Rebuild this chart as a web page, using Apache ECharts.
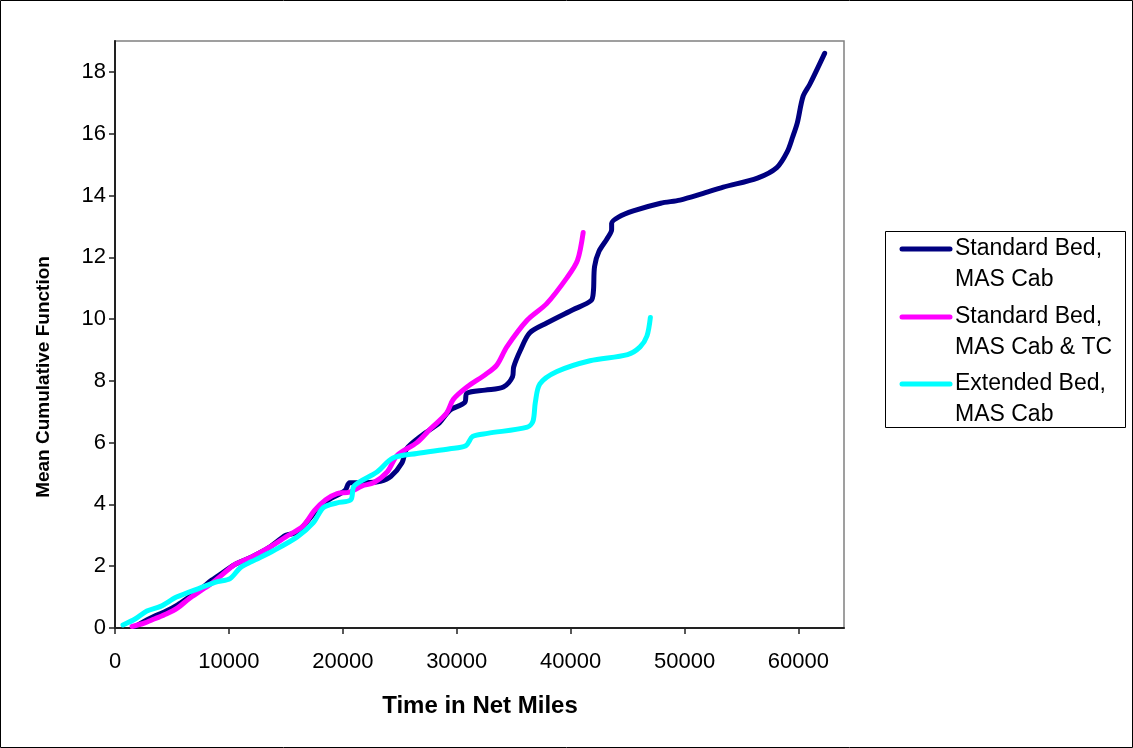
<!DOCTYPE html>
<html><head><meta charset="utf-8">
<script src="https://cdn.jsdelivr.net/npm/echarts@6/dist/echarts.min.js"></script>
<style>html,body{margin:0;padding:0;background:#fff}#c{width:1133px;height:748px}</style>
</head><body><div id="c"></div>
<script>
const seriesNames = ['Standard Bed,\nMAS Cab', 'Standard Bed,\nMAS Cab & TC', 'Extended Bed,\nMAS Cab'];
const seriesColors = ['#000080', '#FF00FF', '#00FFFF'];
const xTicks = [0, 10000, 20000, 30000, 40000, 50000, 60000];
const yTicks = [0, 2, 4, 6, 8, 10, 12, 14, 16, 18];
const xTitle = 'Time in Net Miles';
const yTitle = 'Mean Cumulative Function';

const stdBed = [[1800,0.05],[3000,0.3],[4500,0.55],[5500,0.75],[6500,1.0],[7500,1.25],[8500,1.55],[9500,1.8],[10500,2.05],[12000,2.3],[13500,2.6],[15000,3.0],[16000,3.1],[17000,3.5],[18000,3.95],[19000,4.2],[20200,4.45],[20600,4.7],[22000,4.7],[23300,4.75],[24200,4.9],[25200,5.35],[25600,5.8],[27000,6.25],[28500,6.65],[29400,7.05],[30700,7.3],[30900,7.6],[32500,7.7],[34100,7.8],[34900,8.13],[35000,8.45],[35600,9.0],[36400,9.55],[37900,9.87],[40200,10.3],[41800,10.6],[42000,10.9],[42100,11.7],[42500,12.2],[43200,12.6],[43600,12.9],[43600,13.1],[44200,13.3],[45500,13.5],[47900,13.75],[49600,13.85],[51500,14.05],[53400,14.27],[56400,14.56],[58100,14.9],[59000,15.4],[59500,15.9],[59900,16.35],[60400,17.2],[61000,17.6],[62300,18.6]];
const stdBedTC = [[1500,0.05],[2500,0.15],[3500,0.3],[4500,0.45],[5500,0.65],[6500,0.95],[7500,1.2],[8500,1.45],[9500,1.75],[10500,2.05],[12000,2.3],[13500,2.6],[15000,2.95],[16500,3.3],[17500,3.8],[18500,4.15],[19500,4.35],[20600,4.4],[21700,4.6],[22700,4.7],[23900,5.05],[24800,5.6],[26500,6.0],[27700,6.45],[29100,6.95],[29700,7.4],[30900,7.8],[32500,8.2],[33500,8.5],[34400,9.1],[36200,9.97],[37900,10.5],[39700,11.35],[40600,11.9],[41100,12.8]];
const extBed = [[700,0.1],[1800,0.3],[2800,0.55],[4000,0.7],[5400,1.0],[7500,1.3],[9000,1.5],[10100,1.6],[11000,1.95],[12000,2.15],[13900,2.5],[16000,2.95],[17400,3.4],[18300,3.9],[19500,4.05],[20700,4.15],[21000,4.6],[23000,5.05],[24400,5.5],[26500,5.65],[29400,5.8],[30800,5.9],[31400,6.2],[32700,6.3],[36200,6.5],[36700,6.7],[36900,7.3],[37300,7.9],[38800,8.3],[41700,8.65],[45000,8.85],[46100,9.1],[46700,9.45],[47000,10.05]];
const seriesData = [stdBed, stdBedTC, extBed];

const FONT = 'Liberation Sans, Arial, sans-serif';
const chart = echarts.init(document.getElementById('c'), null, {renderer: 'canvas'});

const legendGraphics = [{
  type: 'rect', shape: {x: 885.5, y: 231.5, width: 240, height: 196},
  style: {fill: '#fff', stroke: '#000', lineWidth: 1}, z: 10
}];
const legendRows = [249, 317, 384];
seriesNames.forEach((n, i) => {
  legendGraphics.push({type: 'line', shape: {x1: 902, y1: legendRows[i], x2: 950, y2: legendRows[i]},
    style: {stroke: seriesColors[i], lineWidth: 5, lineCap: 'round'}, z: 11});
  legendGraphics.push({type: 'text', x: 955, y: legendRows[i] - 16,
    style: {text: n, font: '23px ' + FONT, fill: '#000', lineHeight: 31, textVerticalAlign: 'top'}, z: 11});
});

chart.setOption({
  animation: false,
  backgroundColor: '#fff',
  grid: {left: 115, top: 41, right: 289, bottom: 120, show: true, borderColor: '#808080', borderWidth: 1.5, backgroundColor: 'transparent'},
  xAxis: {
    type: 'value', min: 0, max: 64000, interval: 10000,
    axisLine: {show: true, onZero: false, lineStyle: {color: '#222', width: 2}},
    axisTick: {show: true, length: 6, inside: false, customValues: xTicks, lineStyle: {color: '#222', width: 1.5}},
    axisLabel: {customValues: xTicks, margin: 23, fontSize: 22, fontFamily: FONT, color: '#000', formatter: v => String(v)},
    splitLine: {show: false}
  },
  yAxis: {
    type: 'value', min: 0, max: 19, interval: 2,
    axisLine: {show: true, onZero: false, lineStyle: {color: '#222', width: 2}},
    axisTick: {show: true, length: 6, inside: false, customValues: yTicks, lineStyle: {color: '#222', width: 1.5}},
    axisLabel: {customValues: yTicks, margin: 9, fontSize: 22, fontFamily: FONT, color: '#000', formatter: v => String(v)},
    splitLine: {show: false}
  },
  graphic: [
    {type: 'rect', shape: {x: 0.5, y: 0.5, width: 1132, height: 747}, style: {fill: 'none', stroke: '#000', lineWidth: 1}, z: -1, silent: true},
    {type: 'text', x: 480, y: 706, style: {text: xTitle, font: 'bold 24px ' + FONT, fill: '#000', textAlign: 'center', textVerticalAlign: 'middle'}},
    {type: 'text', x: 44, y: 377, rotation: Math.PI / 2, style: {text: yTitle, font: 'bold 19px ' + FONT, fill: '#000', textAlign: 'center', textVerticalAlign: 'middle'}},
    ...legendGraphics
  ],
  series: seriesData.map((d, i) => ({
    name: seriesNames[i], type: 'line', data: d, showSymbol: false, smooth: 0.3,
    lineStyle: {color: seriesColors[i], width: 5, cap: 'round', join: 'round'},
    itemStyle: {color: seriesColors[i]}
  }))
});
</script></body></html>
